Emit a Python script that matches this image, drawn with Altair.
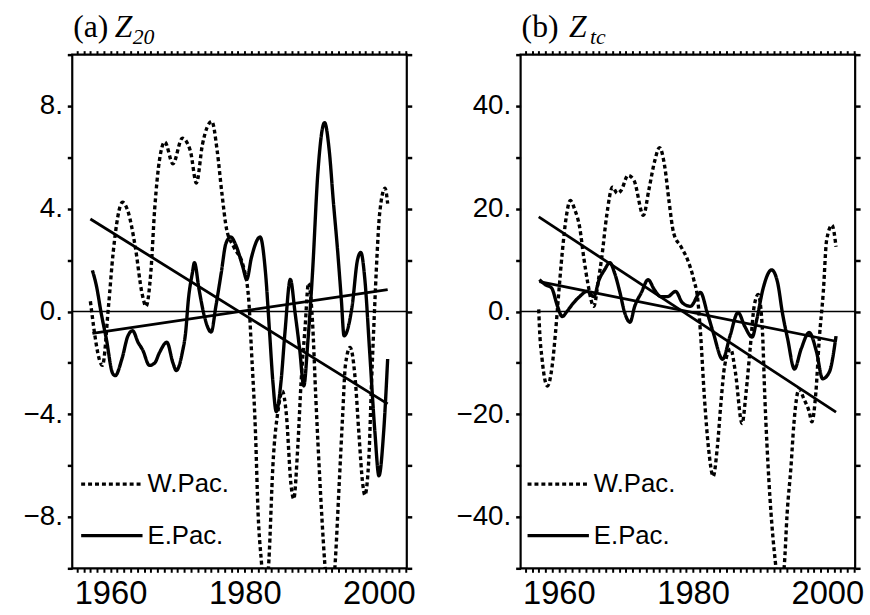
import altair as alt
import pandas as pd

# ---------------- data ----------------
SERIES = ["W.Pac.", "E.Pac."]

# Panel (a) Z20
a_w_year = [1957.0, 1958.8, 1959.7, 1960.4, 1961.8, 1962.6, 1963.7, 1964.7, 1965.3, 1966.0,
            1966.6, 1967.3, 1968.1, 1969.3, 1970.7, 1971.9, 1972.8, 1973.7, 1975.1, 1975.9,
            1976.6, 1977.3, 1978.4, 1979.8, 1980.6, 1981.0, 1981.6, 1982.0, 1982.5, 1983.0,
            1983.6, 1984.2, 1985.0, 1985.6, 1986.2, 1986.9, 1987.3, 1987.9, 1988.4, 1989.0,
            1989.5, 1990.1, 1990.6, 1991.2, 1991.9, 1992.7, 1993.5, 1994.1, 1994.6, 1995.0,
            1995.7, 1996.5, 1997.0, 1997.6, 1997.9, 1998.5, 1998.9, 1999.3, 1999.7, 2000.1,
            2000.9, 2001.3]
a_w_val = [0.4, -2.1, 0.2, 2.3, 4.25, 3.9, 2.5, 0.7, 0.2, 1.5,
           4.05, 5.9, 6.6, 5.75, 6.75, 6.25, 5.0, 6.5, 7.4, 6.25,
           4.6, 3.2, 2.5, 1.75, 0.45, -1.5, -4.7, -7.9, -9.8, -11.5,
           -9.7, -6.0, -3.8, -3.1, -4.0, -6.75, -7.3, -5.3, -2.75, -0.6,
           1.1, -0.4, -3.4, -6.6, -9.7, -12.0, -9.7, -6.6, -4.0, -2.1,
           -1.4, -2.75, -4.7, -6.75, -7.15, -5.7, -2.75, -0.2, 2.1, 3.8,
           4.8, 4.2]

a_e_year = [1957.3, 1957.9, 1958.6, 1959.4, 1960.3, 1960.7, 1961.7, 1962.6, 1963.3, 1964.1,
            1964.8, 1965.8, 1966.6, 1967.3, 1968.4, 1969.3, 1969.8, 1970.7, 1971.2, 1971.6,
            1972.2, 1972.5, 1973.2, 1974.0, 1975.0, 1975.7, 1976.5, 1977.2, 1977.9, 1978.8,
            1979.7, 1980.3, 1981.0, 1982.3, 1983.1, 1983.7, 1984.2, 1984.7, 1985.4, 1986.0,
            1986.8, 1987.5, 1988.2, 1988.8, 1989.4, 1990.1, 1990.9, 1991.9, 1992.6, 1993.2,
            1993.8, 1994.4, 1994.8, 1996.0, 1996.8, 1997.3, 1997.9, 1998.6, 1999.4, 2000.0,
            2000.7, 2001.3]
a_e_val = [1.6, 1.0, -0.05, -1.1, -2.4, -2.5, -1.85, -0.95, -0.75, -1.2,
           -1.5, -2.1, -2.0, -1.6, -1.2, -2.0, -2.3, -1.6, -0.8, 0.45,
           1.5, 1.9, 0.85, -0.2, -0.8, 0.2, 1.5, 2.65, 2.9, 2.5,
           1.75, 1.25, 2.1, 2.9, 1.5, -0.8, -2.75, -3.9, -2.75, -0.8,
           1.25, -0.05, -1.5, -2.9, -1.2, 1.5, 5.4, 7.35, 6.25, 4.3,
           2.5, 0.45, -0.95, 0.2, 2.0, 2.3, 1.25, -1.5, -4.7, -6.4,
           -4.7, -1.85]

a_w_trend_year = [1957.0, 2001.3]
a_w_trend_val = [3.6, -3.6]
a_e_trend_year = [1957.3, 2001.3]
a_e_trend_val = [-0.85, 0.85]

# Panel (b) Ztc
b_w_year = [1957.0, 1957.1, 1957.5, 1958.3, 1959.0, 1959.5, 1959.9, 1960.5, 1961.1, 1961.7,
            1962.4, 1963.1, 1963.7, 1964.3, 1965.2, 1965.9, 1966.4, 1967.1, 1968.0, 1968.7,
            1969.3, 1970.3, 1971.2, 1972.6, 1973.4, 1974.3, 1975.0, 1975.8, 1976.4, 1977.1,
            1978.2, 1979.2, 1980.1, 1980.7, 1981.1, 1981.7, 1982.3, 1983.0, 1983.6, 1984.2,
            1984.7, 1985.6, 1986.3, 1987.3, 1987.9, 1988.5, 1989.1, 1989.7, 1990.3, 1990.7,
            1991.3, 1991.9, 1992.3, 1992.8, 1993.6, 1994.0, 1994.6, 1995.0, 1995.8, 1996.5,
            1997.3, 1997.7, 1998.3, 1998.8, 1999.4, 1999.9, 2000.7, 2001.3]
b_w_val = [0.4, -2.9, -9.3, -14.5, -10.6, -4.1, 2.3, 11.4, 18.4, 21.6,
           19.7, 16.4, 10.6, 5.6, 1.0, 6.2, 10.6, 18.4, 24.2, 23.0,
           23.6, 26.5, 25.5, 18.7, 23.6, 29.4, 31.9, 28.0, 21.6, 15.3,
           12.6, 10.0, 6.2, 2.3, -4.1, -17.0, -26.6, -32.1, -26.6, -17.0,
           -10.6, -7.3, -11.8, -21.8, -15.7, -7.3, 1.0, 3.3, -2.9, -17.0,
           -33.0, -44.0, -49.3, -56.0, -49.3, -39.6, -30.0, -22.2, -15.1, -17.0,
           -19.5, -21.5, -15.7, -5.4, 3.7, 13.9, 16.8, 12.6]

b_e_year = [1957.1, 1958.0, 1958.9, 1959.8, 1960.5, 1961.2, 1962.2, 1963.1, 1964.2, 1965.2,
            1966.0, 1966.8, 1967.6, 1968.3, 1969.1, 1969.8, 1970.6, 1971.3, 1972.3, 1973.3,
            1974.2, 1975.2, 1976.2, 1977.4, 1978.4, 1979.6, 1981.1, 1982.1, 1983.0, 1984.4,
            1985.5, 1986.7, 1987.7, 1988.8, 1989.5, 1990.4, 1991.7, 1992.6, 1993.3, 1994.1,
            1995.1, 1996.1, 1997.3, 1998.4, 1999.3, 2000.3, 2001.3]
b_e_val = [6.2, 5.2, 4.6, 1.0, -1.0, 0.0, 1.7, 2.9, 3.9, 2.9,
           6.2, 8.1, 9.5, 7.5, 3.7, -0.2, -2.1, 1.0, 3.7, 6.2,
           4.3, 2.9, 2.9, 3.9, 1.7, 1.0, 3.7, -0.2, -4.1, -9.3,
           -4.8, -0.2, -2.9, -5.0, -1.5, 4.3, 8.1, 5.6, -0.2, -5.4,
           -11.2, -7.3, -4.1, -7.9, -13.1, -11.8, -4.8]

b_w_trend_year = [1957.0, 2001.3]
b_w_trend_val = [18.4, -19.6]
b_e_trend_year = [1957.1, 2001.3]
b_e_trend_val = [5.8, -5.8]

# axis ticks
year_ticks = list(range(1955, 2005))
a_y_ticks = list(range(-10, 11, 2))
b_y_ticks = list(range(-50, 51, 10))

FONT = "Liberation Sans"
SERIF = "Liberation Serif"
X_DOMAIN = [1954.3, 2004.15]
W, H = 338, 519


def panel(w_year, w_val, e_year, e_val, wt_year, wt_val, et_year, et_val,
          y_dom, y_ticks, label_step, title_letter, title_sub, z_x, sub_x, legend_x):
    df = pd.DataFrame({
        "year": list(w_year) + list(e_year),
        "value": list(w_val) + list(e_val),
        "series": [SERIES[0]] * len(w_year) + [SERIES[1]] * len(e_year),
    })
    tr = pd.DataFrame({
        "year": list(wt_year) + list(et_year),
        "value": list(wt_val) + list(et_val),
        "series": ["W"] * len(wt_year) + ["E"] * len(et_year),
    })
    xs = alt.Scale(domain=X_DOMAIN, nice=False, zero=False)
    ys = alt.Scale(domain=y_dom, nice=False, zero=False)

    common = dict(domain=False, grid=False, title=None, tickColor="black",
                  labelColor="black", labelFont=FONT)
    bottom = alt.Axis(orient="bottom", values=year_ticks, tickSize=4, tickWidth=2,
                      labelExpr="datum.value % 20 == 0 ? '' + datum.value : ''",
                      labelFontSize=33, labelPadding=6, labelOverlap=False,
                      labelFlush=False, **common)
    top = alt.Axis(orient="top", values=year_ticks, tickSize=4, tickWidth=2,
                   labels=False, **common)
    left = alt.Axis(orient="left", values=y_ticks, tickSize=5, tickWidth=2.5,
                    labelExpr=f"datum.value % {label_step} == 0 ? format(datum.value, 'd') + '.' : ''",
                    labelFontSize=28, labelPadding=5, labelOverlap=False, labelFlush=False,
                    **common)
    right = alt.Axis(orient="right", values=y_ticks, tickSize=5, tickWidth=2.5,
                     labels=False, **common)

    lines = alt.Chart(df).mark_line(
        clip=True, color="black", strokeWidth=3.4, interpolate="monotone"
    ).encode(
        x=alt.X("year:Q", scale=xs, axis=bottom),
        y=alt.Y("value:Q", scale=ys, axis=left),
        strokeDash=alt.StrokeDash(
            "series:N",
            scale=alt.Scale(domain=SERIES, range=[[4, 3], [1, 0]]),
            legend=alt.Legend(
                orient="none", legendX=legend_x, legendY=420, title=None,
                symbolType="stroke", symbolSize=3844, symbolStrokeWidth=3.4,
                symbolStrokeColor="black", labelFont=FONT, labelFontSize=26,
                labelColor="black", labelOffset=3, rowPadding=24, clipHeight=28,
                padding=0,
            ),
        ),
        order=alt.Order("year:Q"),
    )

    trends = alt.Chart(tr).mark_line(color="black", strokeWidth=2.8).encode(
        x=alt.X("year:Q", scale=xs, axis=top),
        y=alt.Y("value:Q", scale=ys, axis=right),
        detail="series:N",
    )

    zero = alt.Chart(pd.DataFrame({"z": [0]})).mark_rule(
        color="black", strokeWidth=1.5
    ).encode(y=alt.Y("z:Q", scale=ys, axis=None))

    t1 = alt.Chart(pd.DataFrame({"t": [title_letter]})).mark_text(
        font=SERIF, fontSize=32, align="left", baseline="alphabetic", color="black"
    ).encode(x=alt.value(1), y=alt.value(-18), text="t:N")
    t2 = alt.Chart(pd.DataFrame({"t": ["Z"]})).mark_text(
        font=SERIF, fontSize=32, fontStyle="italic", align="left",
        baseline="alphabetic", color="black"
    ).encode(x=alt.value(z_x), y=alt.value(-18), text="t:N")
    t3 = alt.Chart(pd.DataFrame({"t": [title_sub]})).mark_text(
        font=SERIF, fontSize=22, fontStyle="italic", align="left",
        baseline="alphabetic", color="black"
    ).encode(x=alt.value(sub_x), y=alt.value(-11), text="t:N")

    return alt.layer(zero, trends, lines, t1, t2, t3).resolve_axis(
        x="independent", y="independent"
    ).properties(width=W, height=H)


pa = panel(a_w_year, a_w_val, a_e_year, a_e_val,
           a_w_trend_year, a_w_trend_val, a_e_trend_year, a_e_trend_val,
           [-10, 10], a_y_ticks, 4, "(a)", "20", 43, 61, 7)
pb = panel(b_w_year, b_w_val, b_e_year, b_e_val,
           b_w_trend_year, b_w_trend_val, b_e_trend_year, b_e_trend_val,
           [-50, 50], b_y_ticks, 20, "(b)", "tc", 49, 70, 5)

chart = alt.hconcat(pa, pb, spacing=38).resolve_scale(
    strokeDash="independent"
).resolve_legend(strokeDash="independent").properties(
    padding={"left": 22, "top": 6, "right": 5, "bottom": 0},
    background="white",
).configure_view(stroke="black", strokeWidth=2.2)

chart.save("out.html", embed_options={"renderer": "svg", "actions": False})
